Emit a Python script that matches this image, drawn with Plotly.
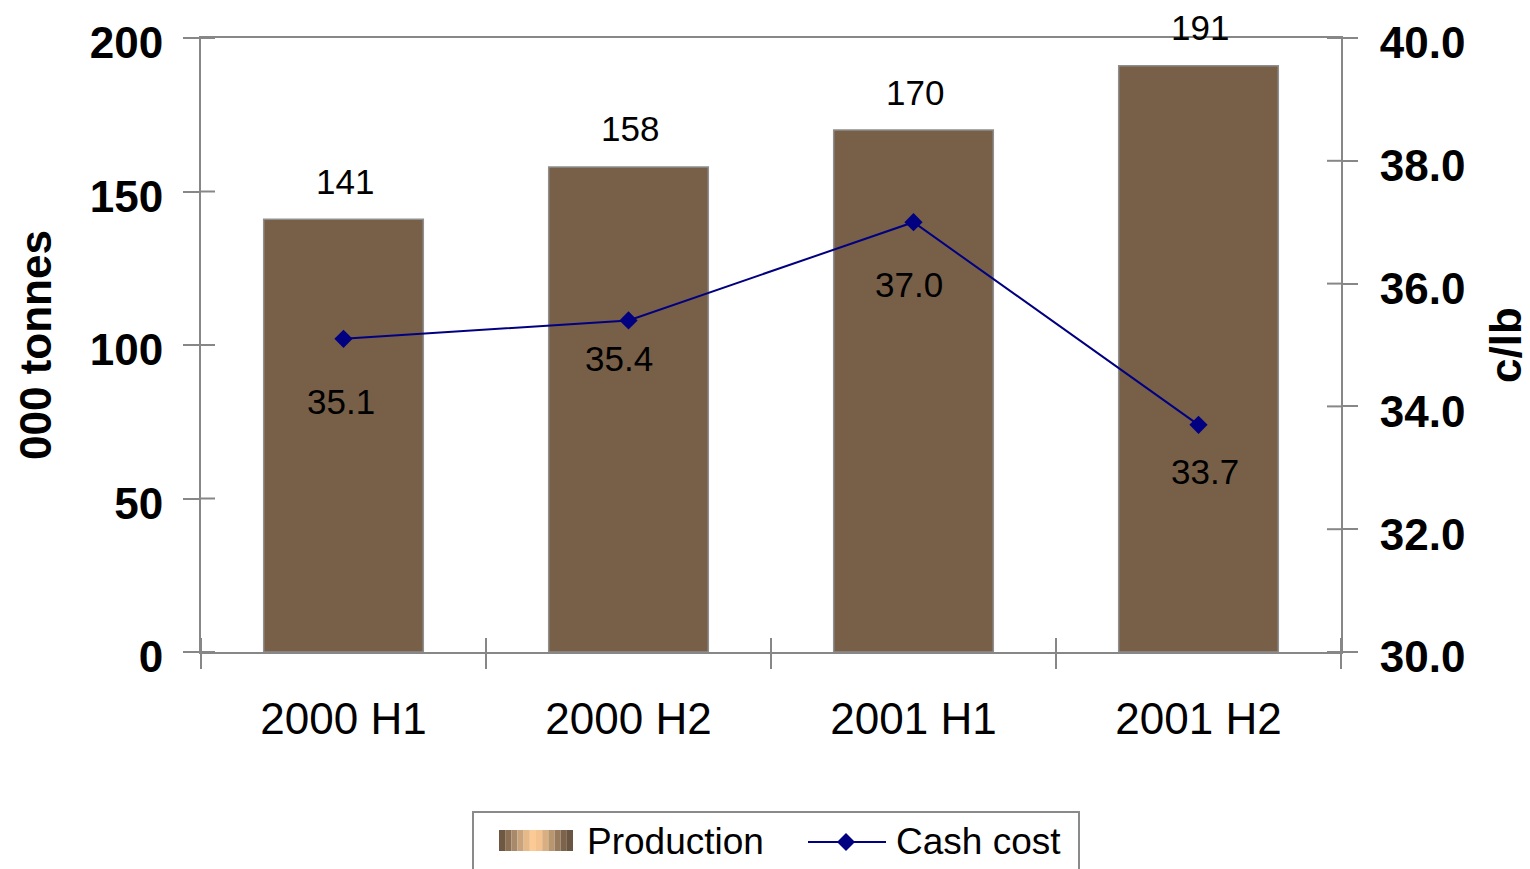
import plotly.graph_objects as go

# ---------------- data ----------------
categories = ["2000 H1", "2000 H2", "2001 H1", "2001 H2"]
production = [141, 158, 170, 191]          # 000 tonnes (left axis)
cash_cost = [35.1, 35.4, 37.0, 33.7]       # c/lb (right axis)
left_ticks = [0, 50, 100, 150, 200]
right_ticks = [30.0, 32.0, 34.0, 36.0, 38.0, 40.0]

# ---------------- styles ----------------
FONT = "Liberation Sans, Arial, sans-serif"
BAR_COLOR = "#775f48"
LINE_COLOR = "#000080"
AXIS_COLOR = "#878787"
cost_label_dy = [-63, -38, -62, -47]   # pixel offsets of value labels from markers
cost_label_dx = [-3, -10, -5, 6]
swatch_colors = ["#6f5843", "#8b7054", "#a88a6a", "#c8a37c", "#e6b988", "#fcca94",
                 "#f4c28e", "#d8af83", "#b8966f", "#987a5c", "#7c634b", "#6a5542"]

W, H = 1530, 869
L, R, T, B = 201, 1341, 38, 652   # plot area in pixels


def px(x):
    return (x - L) / (R - L)


def py(y):
    return (B - y) / (B - T)


fig = go.Figure()

fig.add_trace(go.Bar(
    x=categories, y=production, name="Production",
    marker=dict(color=BAR_COLOR, line=dict(color="#8f8f8f", width=1.5)),
    width=0.56, yaxis="y", hoverinfo="x+y",
))

fig.add_trace(go.Scatter(
    x=categories, y=cash_cost, name="Cash cost", yaxis="y2",
    mode="lines+markers",
    line=dict(color=LINE_COLOR, width=2),
    marker=dict(symbol="diamond", size=14, color=LINE_COLOR),
))

annotations = []
# bar value labels
for c, v in zip(categories, production):
    annotations.append(dict(
        x=c, y=v, xref="x", yref="y", text=str(v), showarrow=False,
        yanchor="middle", yshift=38, xshift=1,
        font=dict(family=FONT, size=35, color="black"),
    ))
# line value labels
for c, v, dx, dy in zip(categories, cash_cost, cost_label_dx, cost_label_dy):
    annotations.append(dict(
        x=c, y=v, xref="x", yref="y2", text=f"{v:.1f}", showarrow=False,
        yanchor="middle", yshift=dy, xshift=dx,
        font=dict(family=FONT, size=35, color="black"),
    ))
# legend texts
annotations.append(dict(
    x=px(585), y=py(841), xref="paper", yref="paper", text="Production",
    showarrow=False, xanchor="left", yanchor="middle",
    font=dict(family=FONT, size=37, color="black"),
))
annotations.append(dict(
    x=px(894), y=py(841), xref="paper", yref="paper", text="Cash cost",
    showarrow=False, xanchor="left", yanchor="middle",
    font=dict(family=FONT, size=37, color="black"),
))

shapes = []
# inner halves of the crossing tick marks
for v in left_ticks:
    shapes.append(dict(type="line", xref="x domain", yref="y", x0=0, x1=14 / (R - L),
                       y0=v, y1=v, line=dict(color=AXIS_COLOR, width=2)))
for v in right_ticks:
    shapes.append(dict(type="line", xref="x domain", yref="y2", x0=1 - 14 / (R - L), x1=1,
                       y0=v, y1=v, line=dict(color=AXIS_COLOR, width=2)))
for i in range(len(categories) + 1):
    shapes.append(dict(type="line", xref="x", yref="y domain", x0=i - 0.5, x1=i - 0.5,
                       y0=0, y1=14 / (B - T), line=dict(color=AXIS_COLOR, width=2)))

# legend box
shapes.append(dict(type="rect", xref="paper", yref="paper",
                   x0=px(473), x1=px(1079), y0=py(812), y1=py(905),
                   line=dict(color="#8a8a8a", width=2), fillcolor="rgba(0,0,0,0)"))
# production swatch (gradient stripes)
sx0, sx1 = 499, 573
n = len(swatch_colors)
for i, col in enumerate(swatch_colors):
    a = sx0 + (sx1 - sx0) * i / n
    b = sx0 + (sx1 - sx0) * (i + 1) / n
    shapes.append(dict(type="rect", xref="paper", yref="paper",
                       x0=px(a), x1=px(b), y0=py(851), y1=py(830),
                       line=dict(width=0), fillcolor=col))
# cash cost legend line + diamond
shapes.append(dict(type="line", xref="paper", yref="paper",
                   x0=px(808), x1=px(886), y0=py(842), y1=py(842),
                   line=dict(color=LINE_COLOR, width=2)))
cx, cy, r = 846, 842, 9
shapes.append(dict(type="path", xref="paper", yref="paper",
                   path=(f"M {px(cx)} {py(cy - r)} L {px(cx + r)} {py(cy)} "
                         f"L {px(cx)} {py(cy + r)} L {px(cx - r)} {py(cy)} Z"),
                   fillcolor=LINE_COLOR, line=dict(width=0)))

fig.update_layout(
    width=W, height=H, autosize=False,
    margin=dict(l=L, r=W - R, t=T, b=H - B, pad=0, autoexpand=False),
    paper_bgcolor="white", plot_bgcolor="white",
    showlegend=False,
    bargap=0.44,
    font=dict(family=FONT, color="black"),
    xaxis=dict(
        type="category", tickson="boundaries", ticks="outside", ticklen=15,
        tickwidth=2, tickcolor=AXIS_COLOR, showline=True, linecolor=AXIS_COLOR,
        linewidth=2, mirror=True, showgrid=False, zeroline=False,
        automargin=False,
        tickfont=dict(family=FONT, size=44, color="black"),
        ticklabelstandoff=27,
        range=[-0.5, 3.5],
    ),
    yaxis=dict(
        range=[0, 200], tickvals=left_ticks, ticks="outside", ticklen=16,
        tickwidth=2, tickcolor=AXIS_COLOR, showline=True, linecolor=AXIS_COLOR,
        linewidth=2, showgrid=False, zeroline=False, automargin=False,
        ticklabelstandoff=11, ticklabelshift=5,
        tickfont=dict(family=FONT, size=44, color="black", weight="bold"),
        title=dict(text="000 tonnes", standoff=24,
                   font=dict(family=FONT, size=44, color="black", weight="bold")),
    ),
    yaxis2=dict(
        range=[30, 40], tickvals=right_ticks, tickformat=".1f", overlaying="y",
        side="right", ticks="outside", ticklen=15, tickwidth=2,
        tickcolor=AXIS_COLOR, showline=True, linecolor=AXIS_COLOR, linewidth=2,
        showgrid=False, zeroline=False, automargin=False,
        ticklabelstandoff=13, ticklabelshift=5,
        tickfont=dict(family=FONT, size=44, color="black", weight="bold"),
        title=dict(text="c/lb", standoff=30,
                   font=dict(family=FONT, size=44, color="black", weight="bold")),
    ),
    annotations=annotations,
    shapes=shapes,
)

fig.write_html("out.html", config={"displayModeBar": False},
               post_script="document.body.style.margin='0';document.body.style.overflow='hidden';")
